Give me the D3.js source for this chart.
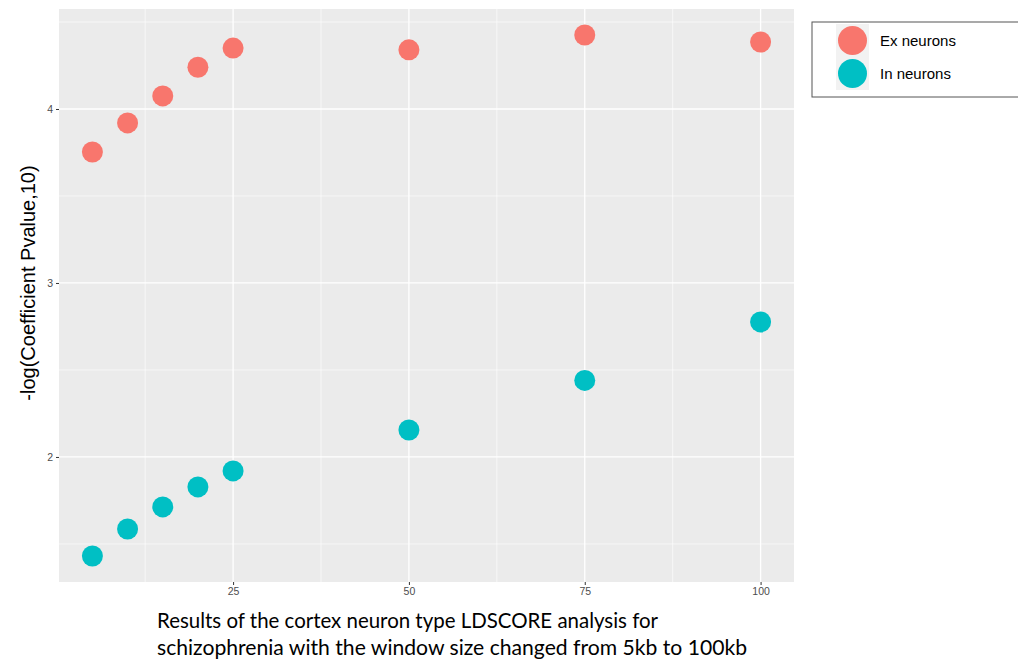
<!DOCTYPE html>
<html>
<head>
<meta charset="utf-8">
<script src="https://cdn.jsdelivr.net/npm/d3@7"></script>
<style>
  body { margin: 0; background: #fff; }
  svg { display: block; }
</style>
</head>
<body>
<svg id="chart" width="1018" height="661"></svg>
<script>
// Window sizes (kb) and -log10 p-values for each neuron type
const windowSizes = [5, 10, 15, 20, 25, 50, 75, 100];
const exNeurons = [3.753, 3.92, 4.075, 4.24, 4.35, 4.34, 4.425, 4.385];
const inNeurons = [1.431, 1.586, 1.713, 1.828, 1.92, 2.155, 2.44, 2.776];
const seriesNames = ["Ex neurons", "In neurons"];
const seriesColors = ["#F8766D", "#00BFC4"];
const xTicks = [25, 50, 75, 100];
const yTicks = [2, 3, 4];

const svg = d3.select("#chart");
const panel = { left: 59, top: 9, right: 794, bottom: 582 };

// ggplot-style 5% expansion on both axes
function expanded(vals) {
  const [lo, hi] = d3.extent(vals);
  const pad = (hi - lo) * 0.05;
  return [lo - pad, hi + pad];
}
const x = d3.scaleLinear().domain(expanded(windowSizes)).range([panel.left, panel.right]);
const y = d3.scaleLinear().domain(expanded(exNeurons.concat(inNeurons))).range([panel.bottom, panel.top]);

// panel background
svg.append("rect")
  .attr("x", panel.left).attr("y", panel.top)
  .attr("width", panel.right - panel.left).attr("height", panel.bottom - panel.top)
  .attr("fill", "#EBEBEB");

// minor gridlines halfway between majors
const xMinor = [0].concat(xTicks).slice(0, -1).map((v, i) => (v + xTicks[i]) / 2).filter(v => x(v) > panel.left);
const yMinor = [1.5, 2.5, 3.5, 4.5].filter(v => y(v) > panel.top && y(v) < panel.bottom);
const grid = svg.append("g");
grid.selectAll(".xmin").data(xMinor).join("line")
  .attr("x1", d => x(d)).attr("x2", d => x(d))
  .attr("y1", panel.top).attr("y2", panel.bottom)
  .attr("stroke", "#fff").attr("stroke-width", 0.6);
grid.selectAll(".ymin").data(yMinor).join("line")
  .attr("x1", panel.left).attr("x2", panel.right)
  .attr("y1", d => y(d)).attr("y2", d => y(d))
  .attr("stroke", "#fff").attr("stroke-width", 0.6);
grid.selectAll(".xmaj").data(xTicks).join("line")
  .attr("x1", d => x(d)).attr("x2", d => x(d))
  .attr("y1", panel.top).attr("y2", panel.bottom)
  .attr("stroke", "#fff").attr("stroke-width", 1.3);
grid.selectAll(".ymaj").data(yTicks).join("line")
  .attr("x1", panel.left).attr("x2", panel.right)
  .attr("y1", d => y(d)).attr("y2", d => y(d))
  .attr("stroke", "#fff").attr("stroke-width", 1.3);

// axes
const xAxis = svg.append("g")
  .attr("transform", `translate(0,${panel.bottom})`)
  .call(d3.axisBottom(x).tickValues(xTicks).tickFormat(d3.format("d")).tickSize(3).tickPadding(3));
const yAxis = svg.append("g")
  .attr("transform", `translate(${panel.left},0)`)
  .call(d3.axisLeft(y).tickValues(yTicks).tickFormat(d3.format("d")).tickSize(3).tickPadding(3));
[xAxis, yAxis].forEach(a => {
  a.select(".domain").remove();
  a.selectAll(".tick line").attr("stroke", "#333").attr("stroke-width", 1);
  a.selectAll(".tick text").attr("fill", "#4D4D4D")
    .style("font-family", "'Liberation Sans', Arial, sans-serif").style("font-size", "10.5px");
});

// points
const seriesData = [exNeurons, inNeurons];
seriesData.forEach((vals, si) => {
  svg.append("g").selectAll("circle")
    .data(vals.map((v, i) => ({ x: windowSizes[i], y: v })))
    .join("circle")
    .attr("cx", d => x(d.x)).attr("cy", d => y(d.y))
    .attr("r", 10.5)
    .attr("fill", seriesColors[si]);
});

// y-axis title
svg.append("text")
  .attr("transform", `translate(35,283) rotate(-90)`)
  .attr("text-anchor", "middle")
  .style("font-family", "'Liberation Sans', Arial, sans-serif")
  .style("font-size", "20px")
  .attr("fill", "#000")
  .text("-log(Coefficient Pvalue,10)");

// legend
const legend = svg.append("g");
legend.append("rect")
  .attr("x", 812).attr("y", 22).attr("width", 220).attr("height", 75)
  .attr("fill", "#fff").attr("stroke", "#555").attr("stroke-width", 1);
seriesNames.forEach((name, i) => {
  const top = 24 + i * 33;
  legend.append("rect").attr("x", 836).attr("y", top).attr("width", 33).attr("height", 33).attr("fill", "#F2F2F2");
  legend.append("circle").attr("cx", 852.5).attr("cy", top + 16.5).attr("r", 14.5).attr("fill", seriesColors[i]);
  legend.append("text")
    .attr("x", 880).attr("y", top + 16.5).attr("dy", "0.35em")
    .style("font-family", "'Liberation Sans', Arial, sans-serif").style("font-size", "15px")
    .attr("fill", "#000").text(name);
});

// caption
const caption = ["Results of the cortex neuron type LDSCORE analysis for",
                 "schizophrenia with the window size changed from 5kb to 100kb"];
const captionWidths = [501, 590];
caption.forEach((line, i) => {
  svg.append("text")
    .attr("x", 157).attr("y", 628 + i * 27)
    .attr("textLength", captionWidths[i]).attr("lengthAdjust", "spacingAndGlyphs")
    .style("font-family", "Lato, 'Open Sans', sans-serif").style("font-size", "21px")
    .attr("fill", "#000").text(line);
});
</script>
</body>
</html>
